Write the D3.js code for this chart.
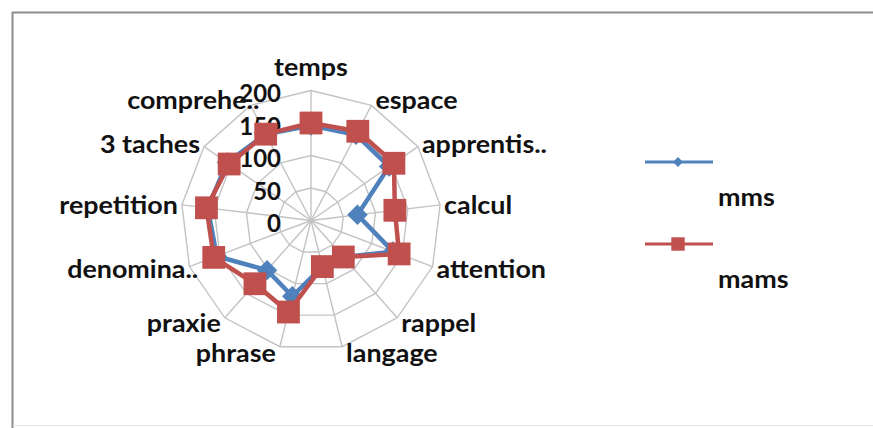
<!DOCTYPE html>
<html>
<head>
<meta charset="utf-8">
<script src="https://cdn.jsdelivr.net/npm/d3@7/dist/d3.min.js"></script>
<style>
  body { margin: 0; background: #fff; }
  svg text { font-family: Lato, "Open Sans", sans-serif; fill: #111; font-weight: 700; }
</style>
</head>
<body>
<svg id="chart" width="873" height="428"></svg>
<script>
// Radar chart: two score profiles over 13 cognitive sub-tests
const categories = ["temps", "espace", "apprentis..", "calcul", "attention", "rappel", "langage",
                    "phrase", "praxie", "denomina..", "repetition", "3 taches", "comprehe.."];
const mmsValues  = [146, 149, 146, 72, 135, 75, 73, 120, 102, 155, 160, 157, 150];
const mamsValues = [150, 155, 155, 130, 145, 75, 73, 145, 130, 160, 162, 153, 150];
const tickValues = [0, 50, 100, 150, 200];
const seriesNames = ["mms", "mams"];
const seriesColors = ["#4f81bd", "#c0504d"];

const svg = d3.select("#chart");
const cx = 311, cy = 220.5, R = 130;
const fontSize = 24, stretch = 1.12;

// frame around the chart area
svg.append("line").attr("x1", 12).attr("y1", 12.5).attr("x2", 873).attr("y2", 12.5)
  .attr("stroke", "#8c8c8c").attr("stroke-width", 2);
svg.append("line").attr("x1", 12.5).attr("y1", 12).attr("x2", 12.5).attr("y2", 428)
  .attr("stroke", "#8c8c8c").attr("stroke-width", 2);
svg.append("line").attr("x1", 13).attr("y1", 425.5).attr("x2", 873).attr("y2", 425.5)
  .attr("stroke", "#e6e6e6").attr("stroke-width", 1);

const n = categories.length;
const angle = d3.scaleLinear().domain([0, n]).range([0, 2 * Math.PI]);
const r = d3.scaleLinear().domain([0, tickValues[tickValues.length - 1]]).range([0, R]);

const g = svg.append("g").attr("transform", `translate(${cx},${cy})`);

// polygonal grid rings
const ring = d3.lineRadial().curve(d3.curveLinearClosed);
g.selectAll(".ring").data(tickValues.slice(1)).join("path")
  .attr("class", "ring")
  .attr("d", t => ring(categories.map((c, i) => [angle(i), r(t)])))
  .attr("fill", "none").attr("stroke", "#c3c3c3").attr("stroke-width", 1.4);

// spokes
g.selectAll(".spoke").data(categories).join("line")
  .attr("class", "spoke")
  .attr("x1", 0).attr("y1", 0)
  .attr("x2", (c, i) => r(200) * Math.sin(angle(i)))
  .attr("y2", (c, i) => -r(200) * Math.cos(angle(i)))
  .attr("stroke", "#c3c3c3").attr("stroke-width", 1.4);

// value axis labels along the first spoke
g.selectAll(".tick").data(tickValues).join("text")
  .attr("class", "tick")
  .attr("x", -30).attr("y", t => -r(t) + 2)
  .attr("text-anchor", "end").attr("dominant-baseline", "central")
  .attr("font-size", fontSize)
  .text(t => t);

// category labels at the end of each spoke; a trailing ".." overflows past the anchor
g.selectAll(".cat").data(categories).join("text")
  .attr("class", "cat")
  .attr("dominant-baseline", "central")
  .attr("font-size", fontSize)
  .text(c => c)
  .each(function (c, i) {
    const a = angle(i), s = Math.sin(a), co = Math.cos(a);
    const ex = r(200) * s, ey = -r(200) * co;
    const el = d3.select(this);
    let x, y, anchor;
    if (Math.abs(s) < 0.1) {
      x = ex; y = ey - 24; anchor = "middle";
    } else {
      x = ex + (s > 0 ? 4 : -4); y = ey - co * 6; anchor = s > 0 ? "start" : "end";
      if (s < 0 && c.endsWith("..")) {
        const tmp = g.append("text").attr("font-size", fontSize).text("..");
        x += tmp.node().getComputedTextLength() * stretch;
        tmp.remove();
      }
    }
    el.attr("text-anchor", anchor)
      .attr("transform", `translate(${x},${y}) scale(${stretch},1)`);
  });

// series
const seriesData = [mmsValues, mamsValues];
const line = d3.lineRadial().curve(d3.curveLinearClosed);
const markers = [d3.symbol().type(d3.symbolSquare).size(210), d3.symbol().type(d3.symbolSquare).size(520)];

seriesData.forEach((vals, k) => {
  const pts = vals.map((v, i) => [angle(i), r(v)]);
  g.append("path").attr("d", line(pts))
    .attr("fill", "none").attr("stroke", seriesColors[k]).attr("stroke-width", 4.5)
    .attr("stroke-linejoin", "round");
  g.selectAll(".m" + k).data(vals).join("path")
    .attr("class", "m" + k)
    .attr("transform", (v, i) => {
      const x = r(v) * Math.sin(angle(i)), y = -r(v) * Math.cos(angle(i));
      return `translate(${x},${y})` + (k === 0 ? " rotate(45)" : "");
    })
    .attr("d", markers[k]())
    .attr("fill", seriesColors[k]);
});

// legend
const legend = svg.append("g").attr("transform", "translate(645,0)");
const legendRows = [162, 244];
const legendMarkers = [d3.symbol().type(d3.symbolSquare).size(50), d3.symbol().type(d3.symbolSquare).size(180)];
seriesNames.forEach((name, k) => {
  const y = legendRows[k];
  legend.append("line").attr("x1", 0).attr("x2", 68).attr("y1", y).attr("y2", y)
    .attr("stroke", seriesColors[k]).attr("stroke-width", 3);
  legend.append("path").attr("d", legendMarkers[k]())
    .attr("transform", `translate(33,${y})` + (k === 0 ? " rotate(45)" : ""))
    .attr("fill", seriesColors[k]);
  legend.append("text")
    .attr("transform", `translate(73,${y + 35}) scale(${stretch},1)`)
    .attr("dominant-baseline", "central")
    .attr("font-size", fontSize)
    .text(name);
});
</script>
</body>
</html>
